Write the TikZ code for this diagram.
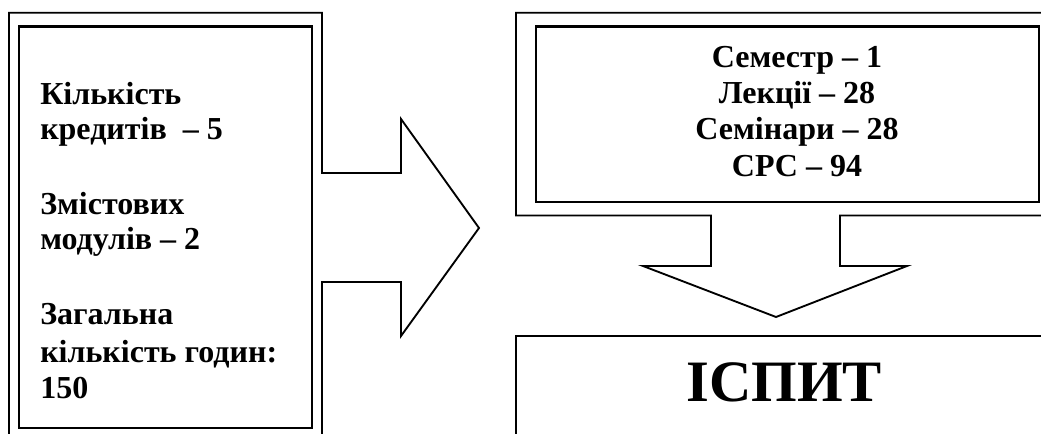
\documentclass[tikz,border=0pt]{standalone}
\usepackage{fontspec}
\setmainfont{Liberation Serif}
\begin{document}
\begin{tikzpicture}[x=0.75pt,y=-0.75pt,
  callout/.style={draw=black,line width=1.4pt,line join=miter},
  inbox/.style={draw=black,line width=2pt},
  lbl/.style={inner sep=0pt,font=\fontsize{24}{28}\selectfont\bfseries},
  big/.style={inner sep=0pt,font=\fontsize{44}{50}\selectfont\bfseries}]
\useasboundingbox (0,0) rectangle (1041,434);
\clip (0,0) rectangle (1041,434);
% left callout with right arrow
\draw[callout] (322,445) -- (322,282) -- (401,282) -- (401,336) -- (479,228)
  -- (401,119) -- (401,173) -- (322,173) -- (322,12.7) -- (9,12.7) -- (9,445);
\draw[inbox] (19,26.5) rectangle (312,428);
% right-top callout with down arrow
\draw[callout] (1060,12.7) -- (516,12.7) -- (516,215.5) -- (711,215.5) -- (711,266)
  -- (643,266) -- (776,317) -- (907,266) -- (840,266) -- (840,215.5) -- (1060,215.5);
\draw[inbox] (536,26.5) rectangle (1039,202);
% bottom box
\draw[callout] (1060,335.7) -- (516,335.7) -- (516,445);
% left texts
\node[lbl,anchor=base west] (l1) at (40,105) {Кількість};
\node[lbl,anchor=base west] (l2) at (40,140) {кредитів \ – 5};
\node[lbl,anchor=base west] (l3) at (40,215) {Змістових};
\node[lbl,anchor=base west] (l4) at (40,250) {модулів – 2};
\node[lbl,anchor=base west] (l5) at (40,325) {Загальна};
\node[lbl,anchor=base west] (l6) at (40,362) {кількість годин:};
\node[lbl,anchor=base west] (l7) at (40,398) {150};
% right texts
\node[lbl,anchor=base] (r1) at (797,68) {Семестр – 1};
\node[lbl,anchor=base] (r2) at (797,104) {Лекції – 28};
\node[lbl,anchor=base] (r3) at (797,140) {Семінари – 28};
\node[lbl,anchor=base] (r4) at (797,177) {СРС – 94};
\node[big,anchor=base] (exam) at (784,401) {ІСПИТ};
\end{tikzpicture}
\end{document}
